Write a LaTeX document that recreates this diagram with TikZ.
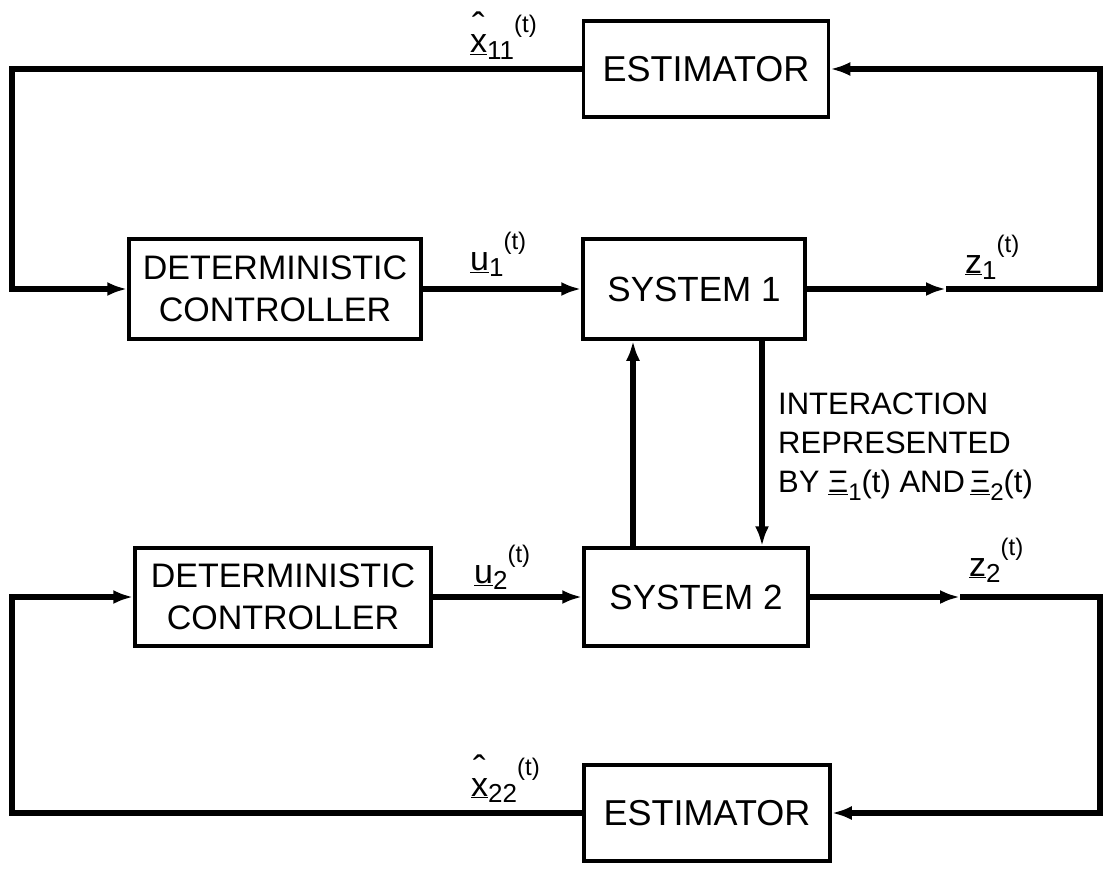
\documentclass[tikz,border=0pt]{standalone}
\usepackage{fontspec}
\setmainfont{Liberation Sans}
\usetikzlibrary{arrows.meta}
\newcommand\sigl[3]{\underline{#1}\raisebox{-0.2em}{\fontsize{26}{26}\selectfont #2}\raisebox{0.6em}{\fontsize{24}{24}\selectfont #3}}
\newcommand\hatx{\rlap{\raisebox{0.4em}{\kern0.06em\fontsize{38}{38}\selectfont ˆ}}x}
\newcommand\xiv[1]{\underline{Ξ}\raisebox{-0.25em}{\fontsize{24}{24}\selectfont #1}(t)}
\begin{document}
\begin{tikzpicture}[x=1pt,y=-1pt,
  blk/.style={draw, line width=3.5pt, inner sep=0pt, align=center},
  conn/.style={line width=5.5pt},
  tip/.style={-{Latex[length=20pt,width=14pt]}},
  lbl/.style={anchor=south west, inner sep=0pt, font=\fontsize{34}{34}\selectfont}]
\useasboundingbox (0,0) rectangle (1107,869);
% blocks
\node[blk, minimum width=245pt, minimum height=96pt, font=\fontsize{36}{36}\selectfont] (E1) at (706,69) {ESTIMATOR};
\node[blk, minimum width=292pt, minimum height=100pt, font=\fontsize{34}{42}\selectfont] (C1) at (275,289) {DETERMINISTIC\\CONTROLLER};
\node[blk, minimum width=222pt, minimum height=100pt, font=\fontsize{35}{35}\selectfont] (S1) at (694,289) {SYSTEM 1};
\node[blk, minimum width=224pt, minimum height=98pt, font=\fontsize{35}{35}\selectfont] (S2) at (696,597) {SYSTEM 2};
\node[blk, minimum width=296pt, minimum height=98pt, font=\fontsize{34}{42}\selectfont] (C2) at (283,597) {DETERMINISTIC\\CONTROLLER};
\node[blk, minimum width=246pt, minimum height=96pt, font=\fontsize{36}{36}\selectfont] (E2) at (707,813) {ESTIMATOR};
% helper coordinates
\coordinate (XL) at (12,0);
\coordinate (XR) at (1100,0);
\coordinate (UX) at (633,0);
\coordinate (DX) at (762,0);
\coordinate (M1) at (946,289);
\coordinate (M2) at (960,597);
% upper loop
\draw[conn,tip] (E1.west) -- (E1.west -| XL) |- (C1.west);
\draw[conn,tip] (C1.east) -- (S1.west);
\draw[conn,tip] (S1.east) -- (M1);
\draw[conn,tip] (M1) -- (M1 -| XR) |- (E1.east);
% interaction
\draw[conn,tip] (S2.north -| UX) -- (S1.south -| UX);
\draw[conn,tip] (S1.south -| DX) -- (S2.north -| DX);
% lower loop
\draw[conn,tip] (C2.east) -- (S2.west);
\draw[conn,tip] (S2.east) -- (M2);
\draw[conn,tip] (M2) -- (M2 -| XR) |- (E2.east);
\draw[conn,tip] (E2.west) -- (E2.west -| XL) |- (C2.west);
% labels
\node[lbl] (lx1) at (470,60) {\sigl{\hatx}{11}{(t)}};
\node[lbl] (lu1) at (470,277) {\sigl{u}{1}{(t)}};
\node[lbl] (lz1) at (965,280) {\sigl{z}{1}{(t)}};
\node[lbl] (lu2) at (474,590) {\sigl{u}{2}{(t)}};
\node[lbl] (lz2) at (969,583) {\sigl{z}{2}{(t)}};
\node[lbl] (lx2) at (471,803) {\sigl{\hatx}{22}{(t)}};
\node[anchor=north west, align=left, inner sep=0pt, font=\fontsize{31}{39}\selectfont] (it) at (778,393)
  {INTERACTION\\REPRESENTED\\BY \xiv{1} AND\,\xiv{2}};
\end{tikzpicture}
\end{document}
